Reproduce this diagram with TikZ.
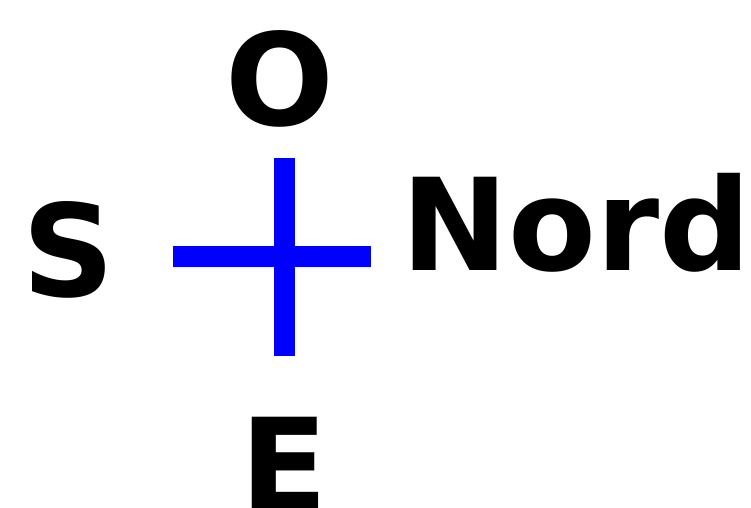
\documentclass[tikz,border=0pt]{standalone}
\usepackage{fontspec}
\setmainfont{DejaVu Sans}
\begin{document}
\begin{tikzpicture}[x=1pt,y=1pt,
  lbl/.style={inner sep=0pt,font=\bfseries\fontsize{128}{128}\selectfont},
  arm/.style={draw=blue,line width=21pt}]
\useasboundingbox (0,0) rectangle (751,507);
\coordinate (w) at (172.7,250.3);
\coordinate (e) at (370.7,250.3);
\coordinate (n) at (284.3,349);
\coordinate (s) at (284.3,151);
\draw[arm] (w) -- (e);
\draw[arm] (n) -- (s);
\node[lbl,anchor=base] (O) at (280,381.5) {O};
\node[lbl,anchor=base west] (N) at (401,237) {Nord};
\node[lbl,anchor=base] (S) at (69,211) {S};
\node[lbl,anchor=base] (E) at (284,-3) {E};
\end{tikzpicture}
\end{document}
